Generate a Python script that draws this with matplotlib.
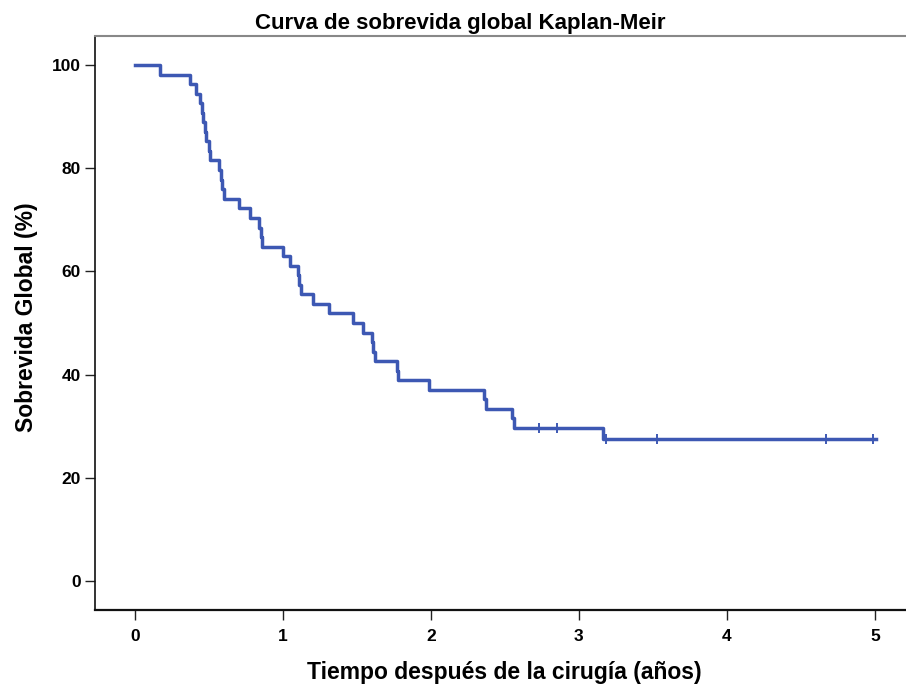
import matplotlib
matplotlib.use('Agg')
import matplotlib.pyplot as plt

# Kaplan-Meier steps: time of each drop (years) and survival after it (%)
event_times = [0.0, 0.17, 0.37, 0.41, 0.44, 0.45, 0.46, 0.47, 0.48, 0.50, 0.51,
               0.57, 0.58, 0.59, 0.60, 0.70, 0.78, 0.84, 0.85, 0.86,
               1.00, 1.05, 1.10, 1.11, 1.12, 1.20, 1.31, 1.47, 1.54,
               1.60, 1.61, 1.62, 1.77, 1.78, 1.99, 2.36, 2.37, 2.55, 2.56,
               3.16, 5.01]
survival = [100.0, 98.1, 96.3, 94.4, 92.6, 90.7, 88.9, 87.0, 85.2, 83.3, 81.5,
            79.6, 77.8, 75.9, 74.1, 72.2, 70.4, 68.5, 66.7, 64.8,
            63.0, 61.1, 59.3, 57.4, 55.6, 53.7, 51.9, 50.0, 48.1,
            46.3, 44.4, 42.6, 40.7, 38.9, 37.0, 35.2, 33.3, 31.5, 29.6,
            27.5, 27.5]

# censored observations
censor_times = [2.73, 2.85, 3.18, 3.525, 4.67, 4.99]
censor_surv = [29.6, 29.6, 27.5, 27.5, 27.5, 27.5]

xticks = [0, 1, 2, 3, 4, 5]
yticks = [0, 20, 40, 60, 80, 100]

line_color = '#3d58b3'
font = ['Liberation Sans', 'DejaVu Sans']

fig = plt.figure(figsize=(9.06, 6.87), dpi=100)
ax = fig.add_axes([95/906, 1 - 610/687, (906 - 95)/906, (610 - 36)/687])

ax.step(event_times, survival, where='post', color=line_color, lw=2.5)
ax.plot(censor_times, censor_surv, linestyle='none', marker='|',
        markersize=7, markeredgewidth=1.4, color=line_color)

ax.set_xlim(-0.27, 5.21)
ax.set_ylim(-5.6, 105.6)
ax.set_xticks(xticks)
ax.set_yticks(yticks)

for lab in ax.get_xticklabels() + ax.get_yticklabels():
    lab.set_family(font)
    lab.set_fontweight('bold')
    lab.set_fontsize(12.5)

ax.tick_params(axis='both', direction='out', length=7, width=1, color='#222222', pad=3)
ax.tick_params(axis='x', pad=7)

ax.spines['right'].set_visible(False)
ax.spines['top'].set_color('#888888')
ax.spines['top'].set_linewidth(1.5)
ax.spines['left'].set_color('#111111')
ax.spines['left'].set_linewidth(1.2)
ax.spines['bottom'].set_color('#111111')
ax.spines['bottom'].set_linewidth(1.6)

ax.set_title('Curva de sobrevida global Kaplan-Meir', fontsize=16,
             fontweight='bold', family=font, pad=5, x=0.45)
ax.set_xlabel('Tiempo después de la cirugía (años)', fontsize=16.5,
              fontweight='bold', family=font, labelpad=12, x=0.505)
ax.set_ylabel('Sobrevida Global (%)', fontsize=16.5,
              fontweight='bold', family=font, labelpad=10, y=0.51)

fig.savefig('out.png', dpi=100)
